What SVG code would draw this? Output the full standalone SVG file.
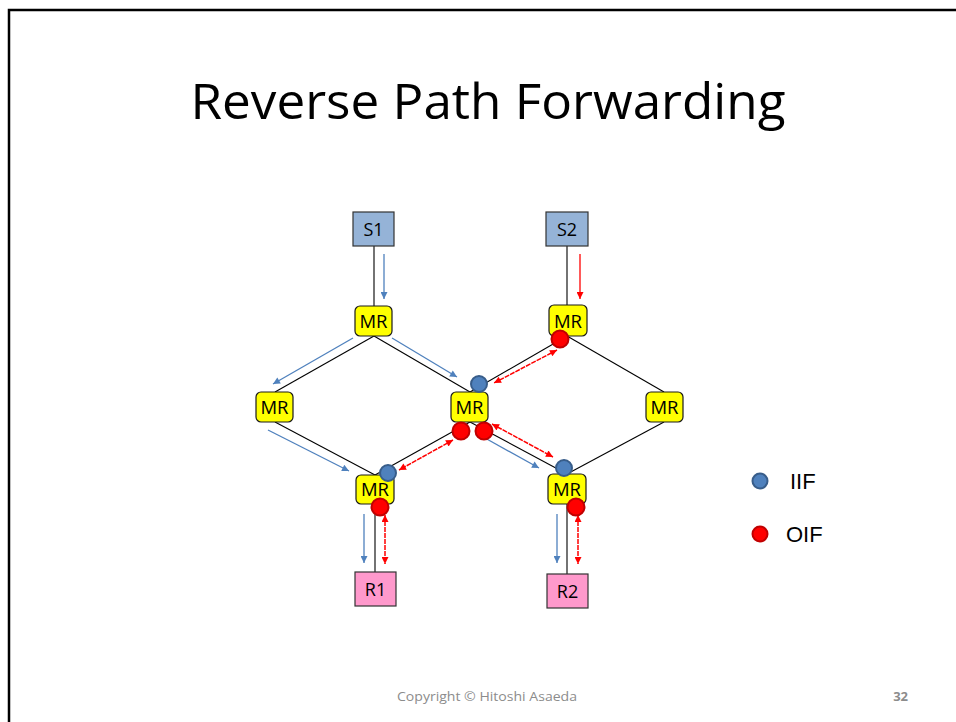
<svg xmlns="http://www.w3.org/2000/svg" width="956" height="722" viewBox="0 0 956 722">
<style>
.mr{fill:#ffff00;stroke:#1a1a1a;stroke-width:1.2}
.src{fill:#95b3d7;stroke:#333;stroke-width:1.2}
.rcv{fill:#ff99cc;stroke:#333;stroke-width:1.2}
.lbl{font-family:"Open Sans","Noto Sans","Liberation Sans",sans-serif;font-size:18px;text-anchor:middle;fill:#000}
.m{font-size:18.5px}
.edge{stroke:#000;stroke-width:1.1;fill:none}
.blue{stroke:#4f81bd;stroke-width:1.3;fill:none;marker-end:url(#ab)}
.red{stroke:#ff0000;stroke-width:1.5;fill:none;stroke-dasharray:5 1;marker-start:url(#ar);marker-end:url(#ar)}
.iif{fill:#4f81bd;stroke:#385d8a;stroke-width:2}
.oif{fill:#ff0000;stroke:#c00000;stroke-width:2}
.leg{font-family:"Liberation Sans",Arial,sans-serif;font-size:22px;fill:#000}
</style>
<defs>
<marker id="ab" viewBox="0 0 10 10" refX="10" refY="5" markerWidth="9" markerHeight="7" markerUnits="userSpaceOnUse" orient="auto-start-reverse"><path d="M0,0 L10,5 L0,10 z" fill="#4f81bd"/></marker>
<marker id="ar" viewBox="0 0 10 10" refX="10" refY="5" markerWidth="9" markerHeight="7" markerUnits="userSpaceOnUse" orient="auto-start-reverse"><path d="M0,0 L10,5 L0,10 z" fill="#ff0000"/></marker>
</defs>
<rect width="956" height="722" fill="#fff"/>
<path d="M9,722 V10 H956" fill="none" stroke="#000" stroke-width="2.5"/>
<text x="488" y="119" font-family="Open Sans,Noto Sans,sans-serif" font-size="50" text-anchor="middle" textLength="595" lengthAdjust="spacingAndGlyphs">Reverse Path Forwarding</text>

<g id="connectors">
<line class="edge" x1="374" y1="246" x2="374" y2="306" stroke="#404040"/>
<line class="edge" x1="567" y1="246" x2="567" y2="305"/>
<line class="edge" x1="374" y1="336" x2="275" y2="392"/>
<line class="edge" x1="374" y1="336" x2="470" y2="392"/>
<line class="edge" x1="567" y1="336" x2="470" y2="392"/>
<line class="edge" x1="567" y1="336" x2="664" y2="392"/>
<line class="edge" x1="275" y1="422" x2="375" y2="475"/>
<line class="edge" x1="470" y1="422" x2="375" y2="475"/>
<line class="edge" x1="470" y1="422" x2="567" y2="474"/>
<line class="edge" x1="664" y1="422" x2="567" y2="474"/>
<line class="edge" x1="375" y1="504" x2="375" y2="572"/>
<line class="edge" x1="567" y1="504" x2="567" y2="574"/>
<line class="blue" x1="384" y1="254" x2="384" y2="299"/>
<line class="blue" x1="353" y1="338" x2="273" y2="384"/>
<line class="blue" x1="392" y1="338" x2="457" y2="377"/>
<line class="blue" x1="268" y1="430" x2="349" y2="471"/>
<line class="blue" x1="485" y1="438" x2="539" y2="468"/>
<line class="blue" x1="364" y1="514" x2="364" y2="563"/>
<line class="blue" x1="557" y1="514" x2="557" y2="563"/>
<line x1="580" y1="254" x2="580" y2="299" stroke="#ff0000" stroke-width="1.3" marker-end="url(#ar)"/>
<line class="red" x1="557" y1="350" x2="494" y2="383"/>
<line class="red" x1="453" y1="440" x2="399" y2="470"/>
<line class="red" x1="492" y1="424" x2="553" y2="457"/>
<line class="red" x1="385" y1="515" x2="385" y2="564"/>
<line class="red" x1="578" y1="515" x2="578" y2="564"/>
</g>

<g id="S1"><rect class="src" x="353" y="212" width="41" height="34"/><text class="lbl" x="373.5" y="235.5">S1</text></g>
<g id="S2"><rect class="src" x="546" y="212" width="42" height="34"/><text class="lbl" x="567" y="235.5">S2</text></g>
<g id="MR1"><rect class="mr" x="355" y="306" width="37" height="30" rx="5"/><text class="lbl m" x="373.5" y="327.5">MR</text></g>
<g id="MR2"><rect class="mr" x="549" y="305" width="38" height="31" rx="5"/><text class="lbl m" x="568" y="327.5">MR</text></g>
<g id="MR3"><rect class="mr" x="256" y="392" width="37" height="30" rx="5"/><text class="lbl m" x="274.5" y="413.5">MR</text></g>
<g id="MR4"><rect class="mr" x="451" y="392" width="37" height="30" rx="5"/><text class="lbl m" x="469.5" y="413.5">MR</text></g>
<g id="MR5"><rect class="mr" x="646" y="392" width="37" height="30" rx="5"/><text class="lbl m" x="664.5" y="413.5">MR</text></g>
<g id="MR6"><rect class="mr" x="356" y="475" width="38" height="29" rx="5"/><text class="lbl m" x="375" y="496">MR</text></g>
<g id="MR7"><rect class="mr" x="548" y="474" width="38" height="30" rx="5"/><text class="lbl m" x="567" y="496">MR</text></g>
<g id="R1"><rect class="rcv" x="355" y="572" width="41" height="34"/><text class="lbl" x="375.5" y="595.5">R1</text></g>
<g id="R2"><rect class="rcv" x="547" y="574" width="41" height="34"/><text class="lbl" x="567.5" y="597.5">R2</text></g>

<g id="interfaces">
<circle class="iif" cx="479" cy="384" r="8"/>
<circle class="iif" cx="388" cy="473" r="8"/>
<circle class="iif" cx="564" cy="468" r="8"/>
<circle class="oif" cx="560" cy="339" r="8.5"/>
<circle class="oif" cx="461" cy="431" r="8.5"/>
<circle class="oif" cx="484" cy="431" r="8.5"/>
<circle class="oif" cx="380" cy="507" r="8.5"/>
<circle class="oif" cx="576" cy="507" r="8.5"/>
</g>

<g id="legend">
<circle class="iif" cx="760" cy="481" r="7.5"/>
<text class="leg" x="790" y="489">IIF</text>
<circle class="oif" cx="760" cy="534" r="7.5"/>
<text class="leg" x="786" y="542">OIF</text>
</g>

<text x="397" y="701" font-family="Open Sans,Noto Sans,sans-serif" font-size="13" fill="#8c8c8c" textLength="180" lengthAdjust="spacingAndGlyphs">Copyright © Hitoshi Asaeda</text>
<text x="908" y="701" font-family="Open Sans,Noto Sans,sans-serif" font-size="13" font-weight="bold" fill="#8c8c8c" text-anchor="end">32</text>
</svg>
